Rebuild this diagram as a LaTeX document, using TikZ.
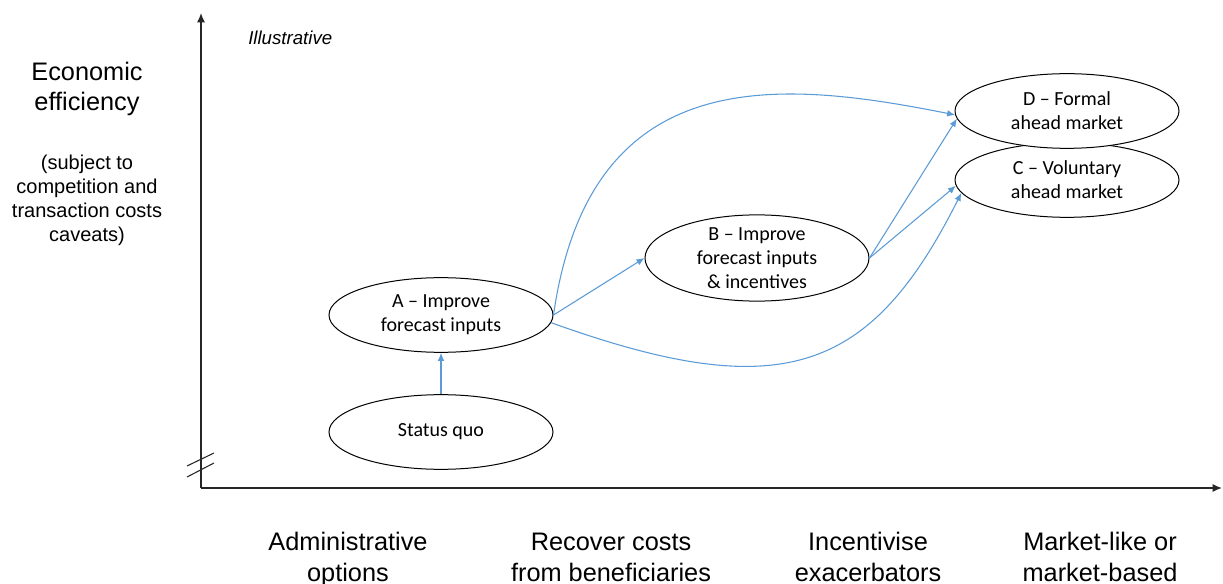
\documentclass[tikz,border=0pt]{standalone}
\usepackage{fontspec}
\setmainfont{Carlito}
\newfontfamily\arialfont{Liberation Sans}
\usetikzlibrary{shapes.geometric,arrows.meta}
\definecolor{linkblue}{RGB}{91,155,213}
\begin{document}
\begin{tikzpicture}[x=0.75pt,y=-0.75pt,
  optbox/.style={ellipse,draw=black,fill=white,line width=0.75pt,
    minimum width=168pt,minimum height=56pt,inner sep=0pt,align=center,
    font=\fontsize{15}{18}\selectfont},
  link/.style={draw=linkblue,line width=0.8pt,-{Latex[length=6pt,width=5pt]}},
  axisline/.style={draw=black!85,line width=1pt,-{Latex[length=7pt,width=6pt]}},
  axlabel/.style={align=center,inner sep=0pt,font=\arialfont\fontsize{19}{23}\selectfont},
  sublabel/.style={align=center,inner sep=0pt,font=\arialfont\fontsize{15}{18}\selectfont}]
\clip (0,0) rectangle (1223,584);

% axes
\coordinate (O) at (201,488);
\coordinate (ytop) at (201,13);
\coordinate (xend) at (1222,488);
\draw[axisline] (O) -- (ytop);
\draw[axisline] (O) -- (xend);
% axis break
\draw[black!85,line width=0.8pt] (187,466) -- (214,453);
\draw[black!85,line width=0.8pt] (187,477) -- (214,463);

% axis texts
\node[anchor=west,inner sep=0pt,font=\arialfont\itshape\fontsize{14}{17}\selectfont] (illus) at (248,38) {Illustrative};
\node[axlabel] (ylab) at (87,89) {Economic\\efficiency};
\node[sublabel] (ysub) at (87,200) {(subject to\\competition and\\transaction costs\\caveats)};
% category labels along the horizontal axis (anchored on their last line)
\node[axlabel,anchor=base] (x1) at (348,581) {Administrative\\options};
\node[axlabel,anchor=base] (x2) at (611,581) {Recover costs\\from beneficiaries};
\node[axlabel,anchor=base] (x3) at (868,581) {Incentivise\\exacerbators};
\node[axlabel,anchor=base] (x4) at (1100,581) {Market-like or\\market-based};

% options
\node[optbox] (sq) at (441,432) {Status quo};
\node[optbox] (A) at (441,315) {A -- Improve\\forecast inputs};
\node[optbox] (B) at (757,258) {B -- Improve\\forecast inputs\\\& incentives};
\node[optbox] (C) at (1067,180) {C -- Voluntary\\ahead market};
\node[optbox] (D) at (1067,111) {D -- Formal\\ahead market};

% transitions
\draw[link] (sq) -- (A);
\draw[link] (A.east) -- (B.west);
\draw[link] (A.east) .. controls (590,60) and (780,80) .. (D.182);
\draw[link] (A.356) .. controls (780,405) and (870,375) .. (C.187);
\draw[link] (B.east) -- (D.184);
\draw[link] (B.east) -- (C.183);
\end{tikzpicture}
\end{document}
